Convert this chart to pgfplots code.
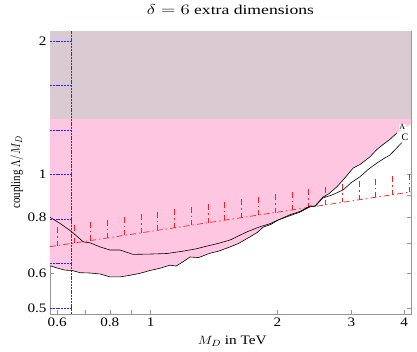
\documentclass[border=0pt]{standalone}
\usepackage{fontspec}
\setmainfont{Liberation Serif}
\usepackage{graphicx}
\usepackage{pgfplots}
\pgfplotsset{compat=1.18}
\definecolor{pinkfill}{RGB}{255,198,225}
\definecolor{grayfill}{RGB}{218,203,211}
\definecolor{axgray}{RGB}{150,150,150}
\definecolor{myblue}{RGB}{40,40,255}
\definecolor{myred}{RGB}{255,30,30}
\newcommand{\tl}[1]{{\fontsize{13}{15}\selectfont\scalebox{1.17}[1]{#1}}}
\begin{document}
\begin{tikzpicture}
\path[use as bounding box] (-50bp,-38bp) rectangle (367bp,314bp);
\begin{axis}[
  at={(0,0)}, anchor=south west,
  scale only axis, width=361bp, height=283bp,
  xmode=log, ymode=log,
  xmin=0.577, xmax=4.155, ymin=0.485, ymax=2.107,
  axis line style={axgray},
  tick style={axgray, line width=0.5pt},
  tick align=inside, major tick length=4bp,
  xtick pos=both, ytick pos=both, xticklabel pos=lower, yticklabel pos=left,
  xtick={0.6,0.7,0.8,0.9,1,2,3,4},
  xticklabels={\tl{0.6},,\tl{0.8},,\tl{1},\tl{2},\tl{3},\tl{4}},
  ytick={0.5,0.6,0.7,0.8,0.9,1,2},
  yticklabels={\tl{0.5},\tl{0.6},,\tl{0.8},,\tl{1},\tl{2}},
  minor xtick={}, minor ytick={},
  title={\fontsize{13.5}{16}\selectfont\scalebox{1.31}[1]{$\delta = 6$ extra dimensions}},
  title style={at={(axis description cs:0.5,1)}, anchor=base, yshift=11bp},
  xlabel={\fontsize{13}{15}\selectfont\scalebox{1.18}[1]{$M_D$ in TeV}},
  xlabel style={at={(axis description cs:0.505,0)}, anchor=base, yshift=-30bp},
  ylabel={\fontsize{11}{13}\selectfont\scalebox{1}[1.2]{coupling $\Lambda/M_D$}},
  ylabel style={at={(axis description cs:-0.092,0.5)}, anchor=center},
  clip=true,
]
% pink allowed region above curve A
\addplot[fill=pinkfill, draw=none] coordinates {
(0.577,0.623) (0.603,0.615) (0.627,0.609) (0.651,0.608) (0.680,0.601) (0.718,0.600) (0.759,0.597) (0.801,0.588) (0.846,0.588) (0.894,0.593) (0.944,0.599) (0.997,0.608) (1.053,0.615) (1.112,0.625) (1.150,0.622) (1.194,0.636) (1.241,0.652) (1.30,0.650) (1.384,0.665) (1.45,0.672) (1.544,0.687) (1.62,0.700) (1.723,0.724) (1.79,0.740) (1.850,0.761) (1.93,0.772) (2.008,0.790) (2.144,0.808) (2.265,0.823) (2.392,0.846) (2.46,0.850) (2.568,0.890) (2.65,0.905) (2.772,0.939) (2.90,0.985) (3.026,1.034) (3.15,1.055) (3.321,1.097) (3.45,1.140) (3.604,1.178) (3.70,1.200) (3.849,1.242) (4.155,1.30) (4.155,1.333) (0.577,1.333)
} --cycle;
% gray excluded region
\addplot[fill=grayfill, draw=none] coordinates {(0.577,1.333) (4.155,1.333) (4.155,2.107) (0.577,2.107)} --cycle;
% blue line and markers
\addplot[myblue, line width=0.8pt, dash pattern=on 2bp off 0.8bp] coordinates {(0.65,0.485) (0.65,2.107)};
\addplot[myblue, line width=0.8pt, dash pattern=on 2bp off 0.8bp, unbounded coords=jump] coordinates {
(0.577,2) (0.65,2) (0.6,nan)
(0.577,1.5874) (0.65,1.5874) (0.6,nan)
(0.577,1.2599) (0.65,1.2599) (0.6,nan)
(0.577,1) (0.65,1) (0.6,nan)
(0.577,0.7937) (0.65,0.7937) (0.6,nan)
(0.577,0.63) (0.65,0.63) (0.6,nan)
(0.577,0.5) (0.65,0.5)
};
% red dash-dot bound
\addplot[myred, line width=0.7pt, dash pattern=on 6bp off 3bp on 1.5bp off 3bp] coordinates {(0.577,0.688) (4.155,0.914)};
\addplot[myred, line width=0.7pt, dash pattern=on 6bp off 3bp on 1.5bp off 3bp, unbounded coords=jump] coordinates {
(0.600,0.761) (0.600,0.692) (0.6,nan)
(0.658,0.771) (0.658,0.701) (0.6,nan)
(0.721,0.782) (0.721,0.711) (0.6,nan)
(0.790,0.792) (0.790,0.720) (0.6,nan)
(0.866,0.803) (0.866,0.730) (0.6,nan)
(0.949,0.813) (0.949,0.739) (0.6,nan)
(1.040,0.824) (1.040,0.749) (0.6,nan)
(1.140,0.835) (1.140,0.759) (0.6,nan)
(1.250,0.846) (1.250,0.769) (0.6,nan)
(1.370,0.857) (1.370,0.779) (0.6,nan)
(1.501,0.869) (1.501,0.790) (0.6,nan)
(1.645,0.880) (1.645,0.800) (0.6,nan)
(1.803,0.892) (1.803,0.811) (0.6,nan)
(1.977,0.903) (1.977,0.821) (0.6,nan)
(2.166,0.915) (2.166,0.832) (0.6,nan)
(2.374,0.927) (2.374,0.843) (0.6,nan)
(2.602,0.940) (2.602,0.855) (0.6,nan)
(2.852,0.952) (2.852,0.866) (0.6,nan)
(3.126,0.965) (3.126,0.877) (0.6,nan)
(3.426,0.978) (3.426,0.889) (0.6,nan)
(3.756,0.991) (3.756,0.901) (0.6,nan)
(4.116,1.004) (4.116,0.913)
};
% curve A
\addplot[black, line width=0.6pt] coordinates {
(0.577,0.623) (0.603,0.615) (0.627,0.609) (0.651,0.608) (0.680,0.601) (0.718,0.600) (0.759,0.597) (0.801,0.588) (0.846,0.588) (0.894,0.593) (0.944,0.599) (0.997,0.608) (1.053,0.615) (1.112,0.625) (1.150,0.622) (1.194,0.636) (1.241,0.652) (1.30,0.650) (1.384,0.665) (1.45,0.672) (1.544,0.687) (1.62,0.700) (1.723,0.724) (1.79,0.740) (1.850,0.761) (1.93,0.772) (2.008,0.790) (2.144,0.808) (2.265,0.823) (2.392,0.846) (2.46,0.850) (2.568,0.890) (2.65,0.905) (2.772,0.939) (2.90,0.985) (3.026,1.034) (3.15,1.055) (3.321,1.097) (3.45,1.140) (3.604,1.178) (3.70,1.200) (3.849,1.242)
};
% curve C
\addplot[black, line width=0.6pt] coordinates {
(0.577,0.801) (0.610,0.776) (0.650,0.743) (0.693,0.705) (0.718,0.702) (0.759,0.687) (0.801,0.676) (0.846,0.676) (0.909,0.661) (0.997,0.662) (1.094,0.664) (1.194,0.672) (1.28,0.680) (1.362,0.690) (1.45,0.700) (1.544,0.712) (1.62,0.728) (1.695,0.743) (1.820,0.763) (1.92,0.775) (2.008,0.790) (2.144,0.812) (2.265,0.826) (2.392,0.850) (2.46,0.848) (2.568,0.886) (2.70,0.900) (2.865,0.923) (3.0,0.960) (3.144,0.989) (3.30,1.030) (3.450,1.062) (3.60,1.090) (3.704,1.107) (3.85,1.150) (3.949,1.180)
};
\node[fill=white, inner sep=0.5bp, font=\fontsize{8}{9}\selectfont] at (axis cs:3.96,1.28) {A};
\node[fill=white, inner sep=0.5bp, font=\fontsize{10}{11}\selectfont] at (axis cs:4.02,1.215) {C};
\end{axis}
\end{tikzpicture}
\end{document}
